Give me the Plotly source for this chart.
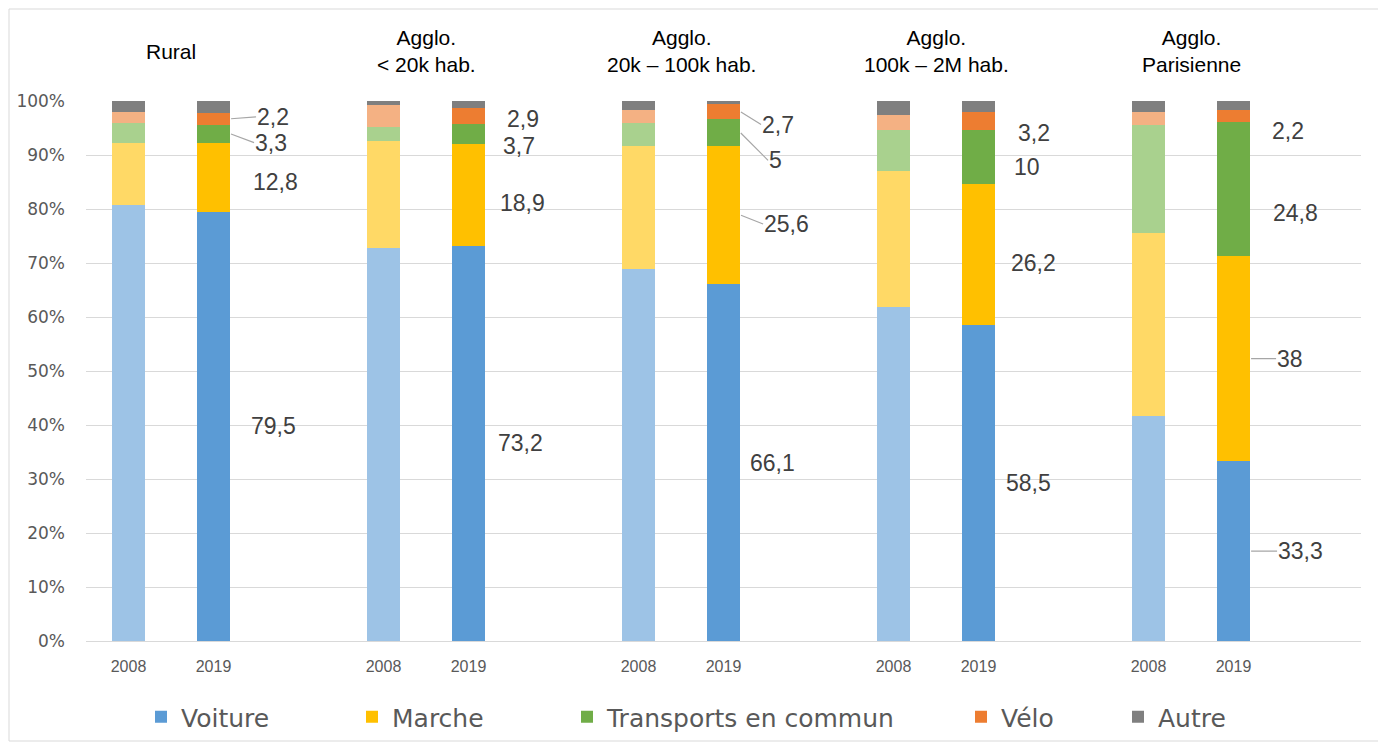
import plotly.graph_objects as go

# ---------------- data ----------------
groups = ["Rural", "Agglo.<br>< 20k hab.", "Agglo.<br>20k – 100k hab.",
          "Agglo.<br>100k – 2M hab.", "Agglo.<br>Parisienne"]
years = ["2008", "2019"]
modes = ["Voiture", "Marche", "Transports en commun", "Vélo", "Autre"]

voiture_2008 = [80.7, 72.8, 68.9, 61.9, 41.7]
marche_2008 = [11.5, 19.8, 22.8, 25.2, 33.8]
tc_2008 = [3.8, 2.5, 4.3, 7.5, 20.1]
velo_2008 = [1.9, 4.2, 2.3, 2.8, 2.3]
autre_2008 = [2.1, 0.7, 1.7, 2.6, 2.1]

voiture_2019 = [79.5, 73.2, 66.1, 58.5, 33.3]
marche_2019 = [12.8, 18.9, 25.6, 26.2, 38.0]
tc_2019 = [3.3, 3.7, 5.0, 10.0, 24.8]
velo_2019 = [2.2, 2.9, 2.7, 3.2, 2.2]
autre_2019 = [2.2, 1.3, 0.6, 2.1, 1.7]

series_2008 = [voiture_2008, marche_2008, tc_2008, velo_2008, autre_2008]
series_2019 = [voiture_2019, marche_2019, tc_2019, velo_2019, autre_2019]

y_ticks = [0, 10, 20, 30, 40, 50, 60, 70, 80, 90, 100]

# ---------------- style ----------------
colors_2019 = ["#5B9BD5", "#FFC000", "#70AD47", "#ED7D31", "#7F7F7F"]
colors_2008 = ["#9DC3E6", "#FFD966", "#A9D18E", "#F4B183", "#7F7F7F"]
W, H = 1386, 745
OFF = 8  # page body margin
# target plot area in page pixels: x 86..1361, y 101..641
ML = 86 - OFF
MT = 101 - OFF
MR = (W + OFF) - 1361
MB = (H + OFF) - 641
PW, PH = W - ML - MR, H - MT - MB
BAR_W = 0.39
SLOT = 3  # 2008, 2019, blank

# label pixel offsets (dx from bar edge, dy downward, leader line?) - styling only
label_style = [
    [(20, 0, False), (22, 5, False), (24, 9, True), (26, -2, True)],
    [(12, 0, False), (14, 8, False), (17, 12, False), (21, 3, False)],
    [(9, 0, False), (23, 9, True), (28, 28, True), (21, 13, True)],
    [(10, 0, False), (15, 9, False), (18, 10, False), (22, 12, False)],
    [(27, 0, True), (26, 0, True), (22, 24, False), (21, 15, False)],
]


def px_x(p):  # page pixel -> paper x
    return (p - OFF - ML) / PW


def px_y(p):  # page pixel -> paper y
    return (H - MB - (p - OFF)) / PH


def pos(g, yi):
    return SLOT * g + yi


def fmt(v):
    s = ("%.1f" % v).rstrip("0").rstrip(".")
    return s.replace(".", ",")


fig = go.Figure()

legend_names = ["legend", "legend2", "legend3", "legend4", "legend5"]
for k, mode in enumerate(modes):
    fig.add_trace(go.Bar(
        x=[pos(g, 0) for g in range(len(groups))], y=series_2008[k],
        width=BAR_W, marker=dict(color=colors_2008[k], line=dict(width=0)),
        name=mode, showlegend=False, hoverinfo="skip"))
    fig.add_trace(go.Bar(
        x=[pos(g, 1) for g in range(len(groups))], y=series_2019[k],
        width=BAR_W, marker=dict(color=colors_2019[k], line=dict(width=0)),
        name=mode, showlegend=True, legend=legend_names[k]))

annotations = []
# group titles
for g, name in enumerate(groups):
    annotations.append(dict(
        x=pos(g, 0.5), xref="x", y=px_y(51), yref="paper",
        text=name, showarrow=False, xanchor="center", yanchor="middle",
        font=dict(family="Liberation Sans, Arial", size=21, color="#000000"),
        align="center"))

# value labels for 2019
for g in range(len(groups)):
    cum = 0.0
    for k in range(4):
        v = series_2019[k][g]
        mid = cum + v / 2
        cum += v
        dx, dy, leader = label_style[g][k]
        annotations.append(dict(
            x=pos(g, 1) + BAR_W / 2, xref="x", y=mid, yref="y",
            text=fmt(v), showarrow=True, arrowhead=0, arrowwidth=1.2,
            arrowcolor="#A6A6A6" if leader else "rgba(0,0,0,0)",
            ax=dx, ay=dy, standoff=1, xanchor="left", yanchor="middle",
            borderpad=0,
            font=dict(family="Liberation Sans, Arial", size=23, color="#404040")))

fig.update_layout(
    width=W, height=H,
    margin=dict(l=ML, r=MR, t=MT, b=MB, autoexpand=False),
    paper_bgcolor="white", plot_bgcolor="white",
    barmode="stack", bargap=0,
    annotations=annotations,
    xaxis=dict(range=[-0.5, SLOT * len(groups) - 0.5],
               tickvals=[pos(g, i) for g in range(len(groups)) for i in range(2)],
               ticktext=[years[i] for g in range(len(groups)) for i in range(2)],
               showgrid=False, zeroline=False, showline=False, ticks="",
               ticklabelstandoff=14,
               tickfont=dict(family="Liberation Sans, Arial", size=16, color="#595959")),
    yaxis=dict(range=[0, 100], tickvals=y_ticks,
               ticktext=["%d%%" % v for v in y_ticks],
               showgrid=True, gridcolor="#D9D9D9", gridwidth=1,
               zeroline=True, zerolinecolor="#D9D9D9", zerolinewidth=1,
               ticks="", ticklabelstandoff=20,
               tickfont=dict(family="DejaVu Sans", size=17, color="#595959")),
    shapes=[dict(type="rect", xref="paper", yref="paper",
                 x0=px_x(OFF + 1), x1=px_x(1380), y0=px_y(741), y1=px_y(OFF + 1),
                 line=dict(color="#D9D9D9", width=1), fillcolor="rgba(0,0,0,0)",
                 layer="below")],
)

legend_marker_px = [161, 372, 587, 981, 1138]
leg_common = dict(orientation="h", yanchor="middle", y=1 - (717 - OFF) / H, yref="container",
                  xanchor="left", xref="container",
                  bgcolor="rgba(0,0,0,0)", itemwidth=30,
                  font=dict(family="DejaVu Sans", size=25, color="#595959"))
for k, ln in enumerate(legend_names):
    fig.update_layout({ln: dict(x=(legend_marker_px[k] - 20 - OFF) / W, **leg_common)})

fig.write_html("out.html")
